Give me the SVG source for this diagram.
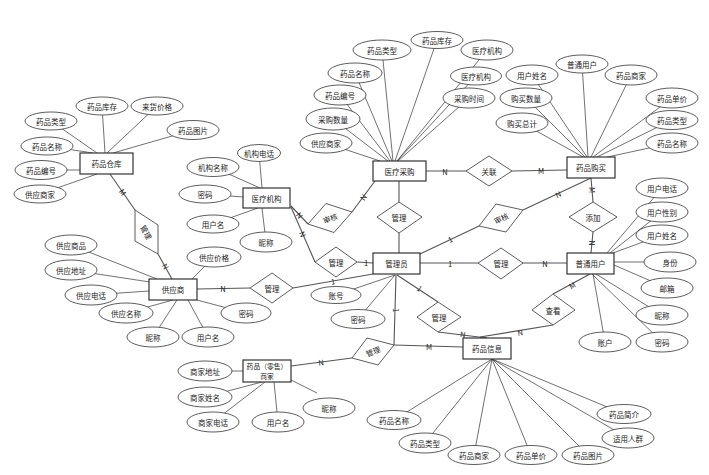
<svg xmlns="http://www.w3.org/2000/svg" width="709" height="475" viewBox="0 0 709 475">
<style>
text{font-family:"Noto Sans CJK SC","Liberation Sans",sans-serif;font-size:7.5px;fill:#222;text-anchor:middle;dominant-baseline:central}
.ent{fill:#fff;stroke:#333;stroke-width:1.2}
.att{fill:#fff;stroke:#333;stroke-width:0.8}
.rel{fill:#fff;stroke:#333;stroke-width:0.8}
.al{stroke:#333;stroke-width:0.7;fill:none}
.rl{stroke:#555;stroke-width:1.1;fill:none}
.lb{font-family:"Liberation Sans",sans-serif;font-size:7.5px}
.sm{font-size:6.8px}
</style>
<rect width="709" height="475" fill="#fff"/>
<g id="connectors">
<g class="al">
<line x1="102" y1="106" x2="105" y2="153"/><line x1="157" y1="106" x2="107" y2="153"/><line x1="51" y1="121" x2="97" y2="153"/><line x1="193" y1="130" x2="113" y2="153"/><line x1="47" y1="146" x2="93" y2="153"/><line x1="41" y1="170" x2="80" y2="170"/><line x1="40" y1="194" x2="97" y2="174"/>
<line x1="259" y1="153" x2="262" y2="188"/><line x1="213" y1="167" x2="260" y2="188"/><line x1="205" y1="194" x2="243" y2="197"/><line x1="213" y1="224" x2="258" y2="208"/><line x1="266" y1="242" x2="262" y2="208"/>
<line x1="437" y1="40" x2="395" y2="161"/><line x1="382" y1="50" x2="393" y2="161"/><line x1="487" y1="50" x2="397" y2="161"/><line x1="355" y1="73" x2="392" y2="161"/><line x1="476" y1="76" x2="397" y2="161"/><line x1="340" y1="95" x2="390" y2="161"/><line x1="469" y1="98" x2="398" y2="161"/><line x1="333" y1="119" x2="388" y2="161"/><line x1="326" y1="143" x2="380" y2="161"/>
<line x1="582" y1="64" x2="588" y2="157"/><line x1="532" y1="75" x2="587" y2="157"/><line x1="631" y1="75" x2="591" y2="157"/><line x1="526" y1="98" x2="585" y2="157"/><line x1="672" y1="98" x2="593" y2="157"/><line x1="522" y1="123" x2="583" y2="157"/><line x1="672" y1="120" x2="597" y2="157"/><line x1="672" y1="143" x2="603" y2="158"/>
<line x1="662" y1="188" x2="607" y2="253"/><line x1="662" y1="212" x2="610" y2="253"/><line x1="662" y1="235" x2="613" y2="253"/><line x1="670" y1="262" x2="614" y2="262"/><line x1="667" y1="288" x2="614" y2="265"/><line x1="662" y1="315" x2="596" y2="274"/><line x1="605" y1="342" x2="593" y2="274"/><line x1="662" y1="342" x2="592" y2="274"/>
<line x1="71" y1="245" x2="157" y2="279"/><line x1="214" y1="257" x2="192" y2="279"/><line x1="71" y1="270" x2="150" y2="282"/><line x1="91" y1="295" x2="149" y2="291"/><line x1="126" y1="313" x2="173" y2="300"/><line x1="246" y1="313" x2="197" y2="300"/><line x1="153" y1="337" x2="177" y2="300"/><line x1="208" y1="337" x2="188" y2="300"/>
<line x1="336" y1="295" x2="395" y2="275"/><line x1="358" y1="319" x2="395" y2="275"/>
<line x1="205" y1="371" x2="243" y2="371"/><line x1="205" y1="397" x2="262" y2="382"/><line x1="213" y1="422" x2="265" y2="382"/><line x1="278" y1="422" x2="274" y2="382"/><line x1="291" y1="380" x2="317" y2="393"/>
<line x1="394" y1="420" x2="492" y2="359"/><line x1="425" y1="443" x2="492" y2="359"/><line x1="474" y1="455" x2="492" y2="359"/><line x1="531" y1="455" x2="492" y2="359"/><line x1="588" y1="455" x2="492" y2="359"/><line x1="624" y1="414" x2="492" y2="359"/><line x1="628" y1="438" x2="492" y2="359"/>
</g>
<g class="rl">
<line x1="110" y1="174" x2="135" y2="210"/><line x1="158" y1="254" x2="172" y2="279"/>
<line x1="291" y1="206" x2="308" y2="224"/><line x1="352" y1="212" x2="375" y2="181"/>
<line x1="291" y1="207" x2="315" y2="262"/><line x1="357" y1="262" x2="373" y2="263"/>
<line x1="399" y1="181" x2="399" y2="202"/><line x1="399" y1="233" x2="399" y2="253"/>
<line x1="426" y1="171" x2="466" y2="171"/><line x1="512" y1="171" x2="567" y2="170"/>
<line x1="420" y1="254" x2="479" y2="226"/><line x1="523" y1="210" x2="591" y2="178"/>
<line x1="591" y1="178" x2="593" y2="202"/><line x1="593" y1="232" x2="591" y2="253"/>
<line x1="420" y1="263" x2="478" y2="263"/><line x1="523" y1="263" x2="567" y2="263"/>
<line x1="590" y1="274" x2="553" y2="294"/><polyline points="553,325 480,337 487,338"/>
<line x1="397" y1="275" x2="438" y2="302"/><line x1="438" y1="332" x2="487" y2="338"/>
<line x1="396" y1="275" x2="394" y2="345"/><line x1="394" y1="345" x2="463" y2="347"/>
<line x1="352" y1="358" x2="291" y2="366"/>
<line x1="197" y1="289" x2="250" y2="288"/><line x1="293" y1="288" x2="373" y2="274"/>
</g>
<g class="lb">
<text x="123" y="192" transform="rotate(55 123 192)">M</text>
<text x="166" y="266" transform="rotate(60 166 266)">N</text>
<text x="300" y="215" transform="rotate(50 300 215)">N</text>
<text x="363" y="197" transform="rotate(-55 363 197)">N</text>
<text x="303" y="234" transform="rotate(65 303 234)">N</text>
<text x="366" y="262">1</text>
<text x="445" y="171">N</text>
<text x="541" y="170">M</text>
<text x="450" y="239" transform="rotate(-28 450 239)">1</text>
<text x="558" y="194" transform="rotate(-25 558 194)">N</text>
<text x="592" y="190" transform="rotate(90 592 190)">M</text>
<text x="592" y="243" transform="rotate(90 592 243)">N</text>
<text x="450" y="263">1</text>
<text x="545" y="263">N</text>
<text x="572" y="285" transform="rotate(-28 572 285)">M</text>
<text x="520" y="332" transform="rotate(-10 520 332)">N</text>
<text x="420" y="288" transform="rotate(35 420 288)">1</text>
<text x="463" y="334" transform="rotate(8 463 334)">N</text>
<text x="396" y="310" transform="rotate(90 396 310)">1</text>
<text x="429" y="346">M</text>
<text x="321" y="362" transform="rotate(-7 321 362)">N</text>
<text x="223" y="288">N</text>
<text x="333" y="281" transform="rotate(-10 333 281)">1</text>
</g>
</g>
<g id="r-manage-w"><polygon class="rel" points="135,210 158,225 158,254 135,241"/><text x="146.5" y="232" transform="rotate(62 146.5 232)">管理</text></g>
<g id="r-audit-m"><polygon class="rel" points="308,224 326,203.5 352,212 334,232.5"/><text x="330" y="218" transform="rotate(-20 330 218)">审核</text></g>
<g id="r-manage-a"><polygon class="rel" points="315,262 336,247 357,262 336,277"/><text x="336" y="262">管理</text></g>
<g id="r-manage-b"><polygon class="rel" points="377,217 399,202 422,217 399,233"/><text x="399" y="217">管理</text></g>
<g id="r-link"><polygon class="rel" points="466,171 489,156 512,171 489,186"/><text x="489" y="171">关联</text></g>
<g id="r-audit-p"><polygon class="rel" points="479,226 496,204 523,210 506,232"/><text x="501" y="218" transform="rotate(-25 501 218)">审核</text></g>
<g id="r-add"><polygon class="rel" points="569,217 593,202 617,217 593,232"/><text x="593" y="217">添加</text></g>
<g id="r-manage-c"><polygon class="rel" points="478,263 501,248 523,263 501,279"/><text x="501" y="263">管理</text></g>
<g id="r-manage-f"><polygon class="rel" points="250,288 272,273 293,288 272,303"/><text x="272" y="288">管理</text></g>
<g id="r-manage-d"><polygon class="rel" points="417,317 438,302 461,317 438,332"/><text x="439" y="317">管理</text></g>
<g id="r-view"><polygon class="rel" points="532,310 553,294 575,310 553,325"/><text x="553" y="310">查看</text></g>
<g id="r-manage-e"><polygon class="rel" points="352,358 367,338 394,345 378,365"/><text x="373" y="351" transform="rotate(-22 373 351)">管理</text></g>
<g id="e-warehouse"><rect class="ent" x="80" y="153" width="53" height="21"/><text x="106.5" y="163.5">药品仓库</text></g>
<g id="e-medorg"><rect class="ent" x="243" y="188" width="47" height="20"/><text x="266.5" y="198">医疗机构</text></g>
<g id="e-medpurchase"><rect class="ent" x="373" y="161" width="53" height="20"/><text x="399.5" y="171">医疗采购</text></g>
<g id="e-purchase"><rect class="ent" x="567" y="157" width="48" height="21"/><text x="591" y="167.5">药品购买</text></g>
<g id="e-user"><rect class="ent" x="567" y="253" width="47" height="21"/><text x="590.5" y="263.5">普通用户</text></g>
<g id="e-admin"><rect class="ent" x="373" y="253" width="47" height="21"/><text x="396.5" y="263.5">管理员</text></g>
<g id="e-supplier"><rect class="ent" x="149" y="279" width="48" height="21"/><text x="173" y="289.5">供应商</text></g>
<g id="e-merchant"><rect class="ent" x="243" y="360" width="48" height="22"/><text class="sm" x="267" y="366">药品（零售）</text><text class="sm" x="267" y="376">商家</text></g>
<g id="e-druginfo"><rect class="ent" x="463" y="338" width="48" height="21"/><text x="487" y="348.5">药品信息</text></g>
<g id="a-warehouse">
<ellipse class="att" cx="102" cy="106" rx="26" ry="9"/><text x="102" y="106">药品库存</text>
<ellipse class="att" cx="157" cy="106" rx="26" ry="9"/><text x="157" y="106">来货价格</text>
<ellipse class="att" cx="51" cy="121" rx="26" ry="9"/><text x="51" y="121">药品类型</text>
<ellipse class="att" cx="193" cy="130" rx="26" ry="9.5"/><text x="193" y="130">药品图片</text>
<ellipse class="att" cx="47" cy="146" rx="26" ry="9"/><text x="47" y="146">药品名称</text>
<ellipse class="att" cx="41" cy="170" rx="26" ry="9.5"/><text x="41" y="170">药品编号</text>
<ellipse class="att" cx="40" cy="194" rx="26" ry="9"/><text x="40" y="194">供应商家</text>
</g>
<g id="a-medorg">
<ellipse class="att" cx="259" cy="153" rx="21.5" ry="8.5"/><text x="259" y="153">机构电话</text>
<ellipse class="att" cx="213" cy="167" rx="26" ry="9.5"/><text x="213" y="167">机构名称</text>
<ellipse class="att" cx="205" cy="194" rx="26" ry="9"/><text x="205" y="194">密码</text>
<ellipse class="att" cx="213" cy="224" rx="26" ry="9"/><text x="213" y="224">用户名</text>
<ellipse class="att" cx="266" cy="242" rx="26" ry="10"/><text x="266" y="242">昵称</text>
</g>
<g id="a-medpurchase">
<ellipse class="att" cx="437" cy="40" rx="26" ry="8.5"/><text x="437" y="40">药品库存</text>
<ellipse class="att" cx="382" cy="50" rx="29" ry="10"/><text x="382" y="50">药品类型</text>
<ellipse class="att" cx="487" cy="50" rx="26" ry="10"/><text x="487" y="50">医疗机构</text>
<ellipse class="att" cx="355" cy="73" rx="27" ry="10"/><text x="355" y="73">药品名称</text>
<ellipse class="att" cx="476" cy="76" rx="25.5" ry="9"/><text x="476" y="76">医疗机构</text>
<ellipse class="att" cx="340" cy="95" rx="26" ry="10"/><text x="340" y="95">药品编号</text>
<ellipse class="att" cx="469" cy="98" rx="26" ry="10"/><text x="469" y="98">采购时间</text>
<ellipse class="att" cx="333" cy="119" rx="27" ry="11"/><text x="333" y="119">采购数量</text>
<ellipse class="att" cx="326" cy="143" rx="26" ry="10"/><text x="326" y="143">供应商家</text>
</g>
<g id="a-purchase">
<ellipse class="att" cx="582" cy="64" rx="26" ry="9"/><text x="582" y="64">普通用户</text>
<ellipse class="att" cx="532" cy="75" rx="26" ry="10"/><text x="532" y="75">用户姓名</text>
<ellipse class="att" cx="631" cy="75" rx="26" ry="10"/><text x="631" y="75">药品商家</text>
<ellipse class="att" cx="526" cy="98" rx="26" ry="10"/><text x="526" y="98">购买数量</text>
<ellipse class="att" cx="672" cy="98" rx="26" ry="10"/><text x="672" y="98">药品单价</text>
<ellipse class="att" cx="522" cy="123" rx="26" ry="10"/><text x="522" y="123">购买总计</text>
<ellipse class="att" cx="672" cy="120" rx="26" ry="9.5"/><text x="672" y="120">药品类型</text>
<ellipse class="att" cx="672" cy="143" rx="26" ry="10"/><text x="672" y="143">药品名称</text>
</g>
<g id="a-user">
<ellipse class="att" cx="662" cy="188" rx="26" ry="10"/><text x="662" y="188">用户电话</text>
<ellipse class="att" cx="662" cy="212" rx="26" ry="10"/><text x="662" y="212">用户性别</text>
<ellipse class="att" cx="662" cy="235" rx="26" ry="10"/><text x="662" y="235">用户姓名</text>
<ellipse class="att" cx="670" cy="262" rx="26" ry="10"/><text x="670" y="262">身份</text>
<ellipse class="att" cx="667" cy="288" rx="26" ry="10"/><text x="667" y="288">邮箱</text>
<ellipse class="att" cx="662" cy="315" rx="26" ry="10"/><text x="662" y="315">昵称</text>
<ellipse class="att" cx="605" cy="342" rx="26" ry="10"/><text x="605" y="342">账户</text>
<ellipse class="att" cx="662" cy="342" rx="26" ry="10"/><text x="662" y="342">密码</text>
</g>
<g id="a-supplier">
<ellipse class="att" cx="71" cy="245" rx="26" ry="10"/><text x="71" y="245">供应商品</text>
<ellipse class="att" cx="214" cy="257" rx="27" ry="10"/><text x="214" y="257">供应价格</text>
<ellipse class="att" cx="71" cy="270" rx="26" ry="10"/><text x="71" y="270">供应地址</text>
<ellipse class="att" cx="91" cy="295" rx="26" ry="10"/><text x="91" y="295">供应电话</text>
<ellipse class="att" cx="126" cy="313" rx="27" ry="10"/><text x="126" y="313">供应名称</text>
<ellipse class="att" cx="246" cy="313" rx="25" ry="10"/><text x="246" y="313">密码</text>
<ellipse class="att" cx="153" cy="337" rx="26" ry="10"/><text x="153" y="337">昵称</text>
<ellipse class="att" cx="208" cy="337" rx="26" ry="10"/><text x="208" y="337">用户名</text>
</g>
<g id="a-admin">
<ellipse class="att" cx="336" cy="295" rx="25" ry="8.5"/><text x="336" y="295">账号</text>
<ellipse class="att" cx="358" cy="319" rx="27" ry="9.5"/><text x="358" y="319">密码</text>
</g>
<g id="a-merchant">
<ellipse class="att" cx="205" cy="371" rx="27" ry="10"/><text x="205" y="371">商家地址</text>
<ellipse class="att" cx="205" cy="397" rx="27" ry="10"/><text x="205" y="397">商家姓名</text>
<ellipse class="att" cx="213" cy="422" rx="26" ry="10"/><text x="213" y="422">商家电话</text>
<ellipse class="att" cx="278" cy="422" rx="26" ry="10"/><text x="278" y="422">用户名</text>
<ellipse class="att" cx="329" cy="408" rx="26" ry="10"/><text x="329" y="408">昵称</text>
</g>
<g id="a-druginfo">
<ellipse class="att" cx="394" cy="420" rx="27" ry="9.5"/><text x="394" y="420">药品名称</text>
<ellipse class="att" cx="425" cy="443" rx="26" ry="10"/><text x="425" y="443">药品类型</text>
<ellipse class="att" cx="474" cy="455" rx="26" ry="9.5"/><text x="474" y="455">药品商家</text>
<ellipse class="att" cx="531" cy="455" rx="26" ry="9.5"/><text x="531" y="455">药品单价</text>
<ellipse class="att" cx="588" cy="455" rx="26" ry="9.5"/><text x="588" y="455">药品图片</text>
<ellipse class="att" cx="624" cy="414" rx="27" ry="9.5"/><text x="624" y="414">药品简介</text>
<ellipse class="att" cx="628" cy="438" rx="26" ry="10"/><text x="628" y="438">适用人群</text>
</g>
</svg>
